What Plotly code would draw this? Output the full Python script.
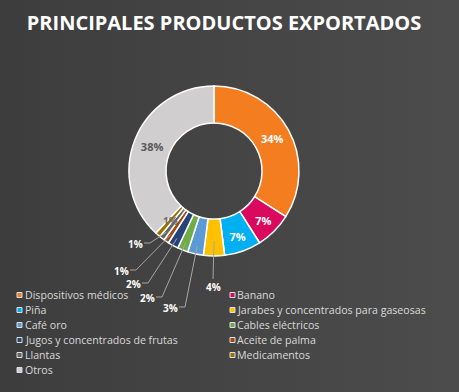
import math
import base64
import plotly.graph_objects as go

# ---------------- data ----------------
LABELS = [
    "Dispositivos médicos",
    "Banano",
    "Piña",
    "Jarabes y concentrados para gaseosas",
    "Café oro",
    "Cables eléctricos",
    "Jugos y concentrados de frutas",
    "Aceite de palma",
    "Llantas",
    "Medicamentos",
    "Otros",
]
VALUES = [34, 7, 7, 4, 3, 2, 2, 1, 1, 1, 38]
COLORS = [
    "#F47D20", "#D90A5E", "#00B0F0", "#FFC000", "#5B9BD5", "#70AD47",
    "#264478", "#9E480E", "#636363", "#997300", "#D0CECE",
]
TITLE = "PRINCIPALES PRODUCTOS EXPORTADOS"

# ---------------- layout constants ----------------
W, H = 459, 392
CX, CY, R = 214, 171, 85
HOLE = 0.565
FONT = "Open Sans"

INSIDE = [True, True, True, False, False, False, False, False, False, False, True]
INSIDE_COLOR = ["#FFFFFF", "#FFFFFF", "#FFFFFF", None, None, None, None, None, None, None, "#595959"]
# outside label text centres (pixels) for small slices
OUT_POS = {3: (213, 287), 4: (170, 308), 5: (147, 298), 6: (133, 284), 7: (121, 271), 8: (135, 244)}
HIDDEN_IN = [9]


def px(x):
    return x / W


def py(y):
    return 1 - y / H


total = sum(VALUES)
texts = ["%{percent:.0%}" if f else "" for f in INSIDE]
tcolors = [c if c else "#FFFFFF" for c in INSIDE_COLOR]

fig = go.Figure(
    go.Pie(
        labels=LABELS,
        values=VALUES,
        sort=False,
        direction="clockwise",
        rotation=0,
        hole=HOLE,
        marker=dict(colors=COLORS, line=dict(color="#FFFFFF", width=1.5)),
        texttemplate=texts,
        textposition="inside",
        insidetextorientation="horizontal",
        textfont=dict(family=FONT, size=11, color=tcolors, weight="bold"),
        hoverinfo="label+percent",
        domain=dict(x=[px(CX - R), px(CX + R)], y=[py(CY + R), py(CY - R)]),
        showlegend=False,
    )
)

annotations = []
shapes = []

cum = 0.0
mids = []
for v in VALUES:
    mids.append((cum + v / 2) / total * 2 * math.pi)
    cum += v

for i, (tx, ty) in OUT_POS.items():
    th = mids[i]
    r_end = 70 if i == 3 else 77
    ex = CX + r_end * math.sin(th)
    ey = CY - r_end * math.cos(th)
    txt = f"{round(VALUES[i] / total * 100)}%"
    annotations.append(dict(
        x=px(tx), y=py(ty), xref="paper", yref="paper", text=txt, showarrow=False,
        xanchor="center", yanchor="middle", borderpad=0,
        font=dict(family=FONT, size=10, color="#FFFFFF", weight="bold"),
    ))
    if i == 3:
        path = f"M {px(tx)},{py(ty - 8)} L {px(ex)},{py(ey)}"
    else:
        sx, sy = tx + 9, ty - 1
        path = f"M {px(sx)},{py(sy)} L {px(sx + 6)},{py(sy)} L {px(ex)},{py(ey)}"
    shapes.append(dict(type="path", xref="paper", yref="paper", path=path,
                       line=dict(color="#A6A6A6", width=1)))

for i in HIDDEN_IN:
    th = mids[i]
    rm = R * (1 + HOLE) / 2
    annotations.append(dict(
        x=px(CX + rm * math.sin(th)), y=py(CY - rm * math.cos(th)), xref="paper", yref="paper",
        text=f"{round(VALUES[i] / total * 100)}%", showarrow=False,
        xanchor="center", yanchor="middle", borderpad=0,
        font=dict(family=FONT, size=10, color="#6E6E6E", weight="bold"),
    ))

# manual two-column legend
LEG_X = [(19.5, 23), (232.5, 235)]
LEG_Y0, LEG_DY, SW = 295, 15, 5
for k, lab in enumerate(LABELS):
    row, col = divmod(k, 2)
    sx, tx = LEG_X[col]
    yy = LEG_Y0 + row * LEG_DY
    shapes.append(dict(type="rect", xref="paper", yref="paper",
                       x0=px(sx - SW / 2), x1=px(sx + SW / 2), y0=py(yy + SW / 2), y1=py(yy - SW / 2),
                       fillcolor=COLORS[k], line=dict(color="#E0E0E0", width=1)))
    annotations.append(dict(
        x=px(tx), y=py(yy), xref="paper", yref="paper", text=lab, showarrow=False,
        xanchor="left", yanchor="middle",
        font=dict(family=FONT, size=10.6, color="#D9D9D9"),
    ))

svg = (
    f'<svg xmlns="http://www.w3.org/2000/svg" width="{W}" height="{H}">'
    '<defs><linearGradient id="g" x1="0" y1="0" x2="1" y2="0">'
    '<stop offset="0" stop-color="#3D3D3D"/><stop offset="1" stop-color="#4C4C4C"/>'
    '</linearGradient></defs><rect width="100%" height="100%" fill="url(#g)"/></svg>'
)
bg = "data:image/svg+xml;base64," + base64.b64encode(svg.encode()).decode()

fig.update_layout(
    width=W, height=H,
    margin=dict(l=0, r=0, t=0, b=0),
    paper_bgcolor="#444444",
    title=dict(text=TITLE, x=224 / W, xanchor="center", y=1 - 23 / H, yanchor="middle",
               xref="paper", yref="container",
               font=dict(family=FONT, size=20, color="#FFFFFF", weight="bold")),
    annotations=annotations,
    shapes=shapes,
    images=[dict(source=bg, xref="paper", yref="paper", x=0, y=1, sizex=1, sizey=1,
                 sizing="stretch", xanchor="left", yanchor="top", layer="below")],
)

fig.write_html(
    "out.html",
    config={"displayModeBar": False},
    post_script="document.body.style.margin='0';document.body.style.background='#444444';",
)
